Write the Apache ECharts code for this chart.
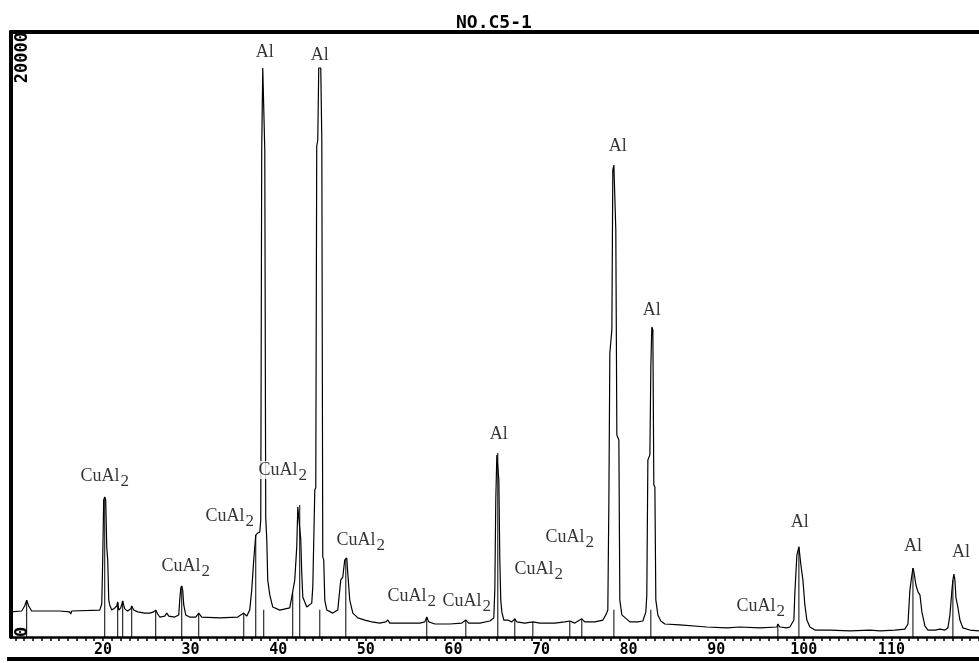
<!DOCTYPE html>
<html>
<head>
<meta charset="utf-8">
<title>NO.C5-1</title>
<script src="https://cdn.jsdelivr.net/npm/echarts@6/dist/echarts.min.js"></script>
<style>
  html, body { margin: 0; padding: 0; background: #fff; }
  #chart { width: 979px; height: 663px; }
</style>
</head>
<body>
<div id="chart"></div>
<script>
'use strict';

// scan: [2theta (deg), intensity (counts)]
const scanPoints = [
  [9.47, 830], [10.72, 860], [11.06, 1025], [11.29, 1220], [11.52, 1025], [11.86, 860], [15.06, 860],
  [16.20, 830], [16.32, 760], [16.43, 860], [19.63, 890], [19.86, 1090], [19.97, 2550], [20.08, 4530],
  [20.20, 4630], [20.31, 4530], [20.43, 2980], [20.54, 2550], [20.66, 1220], [20.77, 1060], [21.00, 890],
  [21.34, 960], [21.57, 1025], [21.68, 1160], [21.80, 890], [22.03, 960], [22.25, 1190], [22.48, 930],
  [22.82, 860], [23.17, 930], [23.28, 1025], [23.51, 890], [23.97, 830], [24.77, 790], [25.34, 790],
  [25.79, 830], [26.02, 890], [26.25, 760], [26.48, 660], [27.05, 690], [27.28, 790], [27.51, 690],
  [28.19, 660], [28.65, 730], [28.76, 1220], [28.88, 1620], [28.99, 1690], [29.10, 1550], [29.22, 1060],
  [29.45, 730], [29.90, 660], [30.59, 660], [30.93, 790], [31.27, 660], [33.33, 630], [35.38, 660],
  [36.07, 790], [36.41, 690], [36.75, 890], [36.98, 1550], [37.21, 2550], [37.44, 3370], [37.67, 3440],
  [37.90, 3470], [38.01, 3870], [38.12, 16100], [38.24, 18810], [38.35, 18810], [38.47, 16100],
  [38.58, 3930], [38.70, 3210], [38.81, 1880], [39.04, 1390], [39.38, 990], [40.18, 890], [41.32, 960],
  [41.55, 1320], [41.89, 1880], [42.12, 2980], [42.24, 4300], [42.46, 4360], [42.58, 3210], [42.69, 2120],
  [42.81, 1320], [43.26, 990], [43.83, 1120], [43.95, 1650], [44.18, 4860], [44.29, 4930], [44.40, 16230],
  [44.52, 16430], [44.63, 18810], [44.86, 18810], [44.98, 16430], [45.09, 2650], [45.20, 2550],
  [45.32, 1220], [45.55, 890], [46.23, 790], [46.80, 890], [47.14, 1880], [47.37, 1980], [47.60, 2550],
  [47.83, 2610], [47.94, 2120], [48.17, 1220], [48.52, 790], [49.09, 630], [49.89, 560], [50.68, 500],
  [51.60, 460], [52.28, 500], [52.51, 560], [52.74, 460], [53.88, 460], [56.17, 460], [56.74, 500],
  [56.96, 660], [57.19, 500], [57.88, 430], [59.59, 430], [60.96, 460], [61.42, 560], [61.76, 460],
  [63.02, 460], [64.16, 530], [64.61, 630], [64.73, 1550], [64.84, 4530], [64.96, 6020], [65.07, 6080],
  [65.19, 5190], [65.30, 2550], [65.41, 1220], [65.53, 830], [65.76, 560], [66.21, 560], [66.67, 500],
  [67.01, 600], [67.24, 500], [68.15, 460], [69.07, 500], [69.87, 460], [71.58, 460], [72.72, 500],
  [73.29, 530], [73.86, 460], [74.43, 560], [74.66, 600], [75.00, 500], [76.15, 500], [77.06, 560],
  [77.40, 730], [77.63, 890], [77.75, 4530], [77.86, 9390], [78.09, 10150], [78.20, 15440], [78.32, 15600],
  [78.54, 13460], [78.66, 6680], [78.89, 6510], [79.00, 1220], [79.23, 730], [80.14, 500], [81.06, 500],
  [81.63, 530], [81.97, 830], [82.08, 1390], [82.20, 5850], [82.43, 6020], [82.54, 8930], [82.65, 10250],
  [82.77, 10150], [82.88, 5030], [83.00, 4960], [83.11, 1220], [83.34, 730], [83.68, 530], [84.14, 430],
  [85.85, 400], [88.93, 330], [91.22, 300], [92.70, 330], [94.99, 300], [96.93, 330], [97.04, 430],
  [97.27, 330], [98.07, 300], [98.41, 330], [98.87, 560], [98.98, 1460], [99.21, 2710], [99.44, 2980],
  [99.67, 2380], [99.90, 1880], [100.12, 1060], [100.35, 560], [100.70, 330], [101.27, 230], [102.98, 230],
  [105.26, 200], [107.55, 230], [108.69, 200], [110.40, 230], [111.54, 260], [111.89, 430], [112.11, 1550],
  [112.34, 2050], [112.46, 2280], [112.57, 2150], [112.80, 1720], [113.03, 1490], [113.26, 1390],
  [113.48, 830], [113.83, 360], [114.17, 230], [114.97, 230], [115.54, 260], [116.11, 230], [116.45, 300],
  [116.68, 730], [116.91, 1550], [117.02, 1880], [117.14, 2080], [117.25, 1880], [117.37, 1290],
  [117.59, 990], [117.82, 560], [118.16, 300], [118.96, 230], [119.99, 200]
];

// peak position markers (drop lines down to the axis)
const markerTheta = [11.29, 20.20, 21.68, 22.25, 23.28, 26.02, 28.99, 30.93, 36.07, 37.44, 38.35, 41.66,
  42.46, 44.75, 47.72, 56.96, 61.42, 65.07, 67.01, 69.07, 73.29, 74.66, 78.32, 82.54, 97.04, 99.44,
  112.46, 117.02];
const markerCounts = [1220, 4630, 1160, 1190, 1025, 890, 1690, 790, 790, 3370, 900, 1450,
  4360, 900, 2600, 660, 560, 6080, 600, 500, 530, 600, 900, 900, 430, 2980,
  2280, 1880];

// phase labels
const labelNames = ['CuAl2', 'CuAl2', 'CuAl2', 'CuAl2', 'Al', 'Al', 'CuAl2', 'CuAl2', 'CuAl2', 'Al',
  'CuAl2', 'CuAl2', 'Al', 'Al', 'CuAl2', 'Al', 'Al', 'Al'];
const labelTheta = [20.20, 29.45, 34.47, 40.52, 38.47, 44.75, 49.43, 55.25, 61.53, 65.19,
  69.75, 73.29, 78.77, 82.65, 95.10, 99.55, 112.46, 117.94];
const labelCounts = [5320, 2350, 4000, 5520, 19340, 19240, 3210, 1360, 1190, 6710,
  2250, 3310, 16230, 10810, 1020, 3800, 3010, 2810];

const xLabelValues = [20, 30, 40, 50, 60, 70, 80, 90, 100, 110];
const yLabelValues = [0, 20000];

(function (w) {
  const MONO = '"DejaVu Sans Mono", "Liberation Mono", monospace';
  const SERIF = '"Liberation Serif", "DejaVu Serif", serif';

  function tickValues() {
    const out = [];
    for (let v = 10; v <= 120; v += 1) out.push(v);
    return out;
  }

  function buildOption() {
    return {
      animation: false,
      backgroundColor: '#fff',
      title: {
        text: 'NO.C5-1',
        left: 451,
        top: 9,
        textStyle: { fontFamily: MONO, fontWeight: 'bold', fontSize: 18, color: '#000' }
      },
      grid: { left: 11, right: 0, top: 32, bottom: 26, containLabel: false },
      xAxis: [{
        type: 'value',
        min: 9.5,
        max: 120,
        position: 'bottom',
        axisLine: { show: true, onZero: false, lineStyle: { color: '#000', width: 2.5 } },
        axisTick: { show: true, length: 4, customValues: tickValues(), lineStyle: { color: '#000', width: 1.5 } },
        axisLabel: {
          customValues: xLabelValues,
          margin: 6,
          color: '#000',
          fontFamily: MONO,
          fontWeight: 'bold',
          fontSize: 15
        },
        splitLine: { show: false }
      }, {
        type: 'value',
        min: 9.5,
        max: 120,
        position: 'top',
        axisLine: { show: true, onZero: false, lineStyle: { color: '#000', width: 4 } },
        axisTick: { show: false },
        axisLabel: { show: false },
        splitLine: { show: false }
      }],
      yAxis: {
        type: 'value',
        min: 0,
        max: 20000,
        interval: 20000,
        axisLine: { show: true, lineStyle: { color: '#000', width: 4 } },
        axisTick: { show: false },
        splitLine: { show: false },
        axisLabel: {
          inside: true,
          rotate: 90,
          margin: 3,
          align: 'right',
          alignMinLabel: 'left',
          alignMaxLabel: 'right',
          verticalAlign: 'top',
          customValues: yLabelValues,
          formatter: (v) => String(v),
          color: '#000',
          fontFamily: MONO,
          fontWeight: 'bold',
          fontSize: 17
        }
      },
      graphic: [{
        type: 'rect',
        shape: { x: 7, y: 657, width: 972, height: 4 },
        style: { fill: '#000' },
        silent: true
      }],
      series: [{
        type: 'bar',
        barWidth: 1,
        silent: true,
        itemStyle: { color: '#000' },
        data: markerTheta.map((t, i) => [t, markerCounts[i]])
      }, {
        type: 'line',
        showSymbol: false,
        silent: true,
        lineStyle: { color: '#000', width: 1.2 },
        data: scanPoints
      }, {
        type: 'scatter',
        symbolSize: 0,
        silent: true,
        z: 5,
        label: {
          show: true,
          position: 'inside',
          color: '#000',
          backgroundColor: '#fff',
          formatter: (p) => (p.name === 'Al' ? '{m|Al}' : '{m|CuAl}{s|2}'),
          rich: {
            m: { fontFamily: SERIF, fontSize: 18, lineHeight: 18, verticalAlign: 'top' },
            s: { fontFamily: SERIF, fontSize: 17, lineHeight: 18, padding: [6, 0, 0, 1], verticalAlign: 'top' }
          }
        },
        data: labelNames.map((n, i) => ({ name: n, value: [labelTheta[i], labelCounts[i]] }))
      }]
    };
  }

  function init() {
    const node = document.getElementById('chart');
    const chart = w.echarts.init(node, null, { renderer: 'canvas' });
    chart.setOption(buildOption(), true);
  }

  init();
})(window);
</script>
</body>
</html>
